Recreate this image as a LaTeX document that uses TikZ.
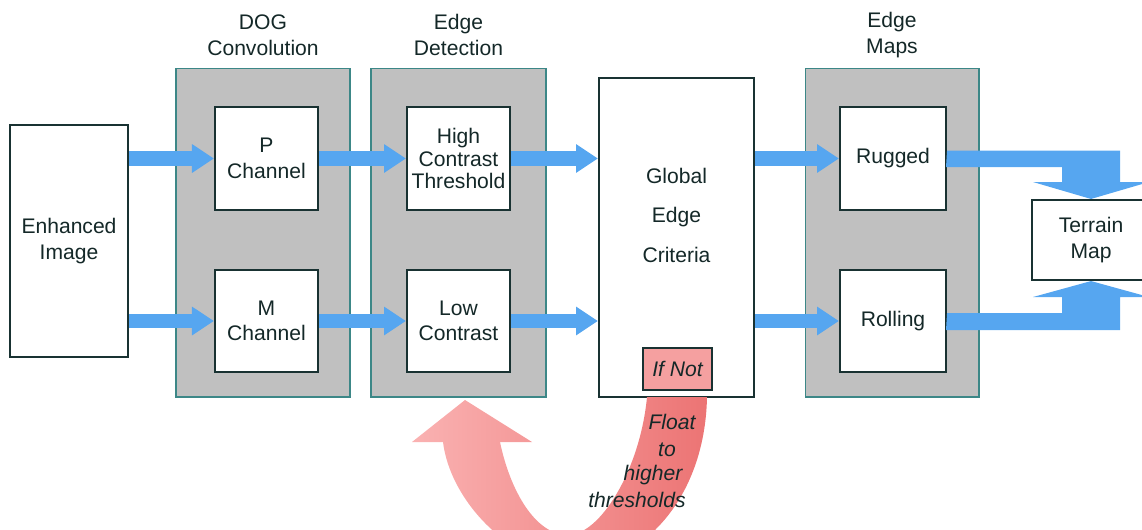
\documentclass[tikz,border=0pt]{standalone}
\usepackage{fontspec}
\setmainfont{Liberation Sans}
\usetikzlibrary{arrows.meta}
\definecolor{panelgray}{RGB}{192,192,192}
\definecolor{panelline}{RGB}{60,135,135}
\definecolor{boxline}{RGB}{25,50,50}
\definecolor{inkdark}{RGB}{20,40,40}
\definecolor{flowblue}{RGB}{86,166,240}
\definecolor{ifnotpink}{RGB}{245,160,160}
\definecolor{pinklight}{RGB}{250,178,178}
\definecolor{pinkdark}{RGB}{236,116,116}
\begin{document}
\begin{tikzpicture}[x=0.02cm, y=-0.02cm,
  every node/.style={font=\fontsize{12}{14.5}\selectfont, text=inkdark},
  panel/.style={draw=panelline, fill=panelgray, line width=0.6pt, inner sep=0pt},
  box/.style={draw=boxline, fill=white, line width=1.2pt, align=center, inner sep=0pt},
  flow/.style={draw=flowblue, line width=8pt, -{Triangle[length=12.5pt,width=15.5pt]}}]
  \useasboundingbox (0,0) rectangle (1142,529);
  \clip (0,0) rectangle (1142,529);
  % grey stage panels with their titles
  \node[panel, minimum width=3.48cm, minimum height=6.58cm] (dog) at (263,232.5) {};
  \node[panel, minimum width=3.5cm, minimum height=6.58cm] (edge) at (458.5,232.5) {};
  \node[panel, minimum width=3.48cm, minimum height=6.58cm] (maps) at (892,232.5) {};
  \node[align=center] (dogtitle) at (263,35) {DOG\\Convolution};
  \node[align=center] (edgetitle) at (458.5,35) {Edge\\Detection};
  \node[align=center] (mapstitle) at (892,35) {Edge\\Maps};
  % boxes
  \node[box, minimum width=2.36cm, minimum height=4.64cm] (enh) at (69,241) {Enhanced\\Image};
  \node[box, minimum width=2.06cm, minimum height=2.06cm] (pch) at (266.5,158.5) {P\\Channel};
  \node[box, minimum width=2.06cm, minimum height=2.04cm] (mch) at (266.5,321) {M\\Channel};
  \node[box, minimum width=2.06cm, minimum height=2.06cm] (high) at (458.5,158.5) {High\\[-1.5pt]Contrast\\[-1.5pt]Threshold};
  \node[box, minimum width=2.06cm, minimum height=2.04cm] (low) at (458.5,321) {Low\\Contrast};
  \node[box, minimum width=3.1cm, minimum height=6.38cm] (glob) at (676.5,237.5) {};
  \node[align=center] (globtext) at ([yshift=0.45cm]glob.center) {Global\\[8pt]Edge\\[8pt]Criteria};
  \node[box, fill=ifnotpink, minimum width=1.38cm, minimum height=0.84cm, font=\fontsize{12}{14.5}\selectfont\itshape] (ifnot) at (677.5,369) {If Not};
  \node[box, minimum width=2.12cm, minimum height=2.06cm] (rug) at (893,158.5) {Rugged};
  \node[box, minimum width=2.12cm, minimum height=2.04cm] (rol) at (893,321) {Rolling};
  \node[box, minimum width=2.36cm, minimum height=1.6cm] (terr) at (1091,240) {Terrain\\Map};
  % flow arrows
  \draw[flow] (enh.east |- pch.west) -- (pch.west);
  \draw[flow] (enh.east |- mch.west) -- (mch.west);
  \draw[flow] (pch.east) -- (high.west);
  \draw[flow] (mch.east) -- (low.west);
  \draw[flow] (high.east) -- (high.east -| glob.west);
  \draw[flow] (low.east) -- (low.east -| glob.west);
  \draw[flow] (rug.west -| glob.east) -- (rug.west);
  \draw[flow] (rol.west -| glob.east) -- (rol.west);
  % merging arrows into the terrain map
  \fill[flowblue] (rug.east) ++(0,-8) -| (1120,182) -- ++(29,0) -- (terr.north)
    -- (1033,182) -- ++(29,0) |- (946,167) -- cycle;
  \fill[flowblue] (rol.east) ++(0,-8) -| (1062,297) -- ++(-29,0) -- (terr.south)
    -- (1149,297) -- ++(-29,0) |- (946,330) -- cycle;
  % feedback arrow
  \shade[left color=pinklight, right color=pinkdark]
    (707,397) .. controls (705,500) and (640,565) .. (575,565)
    .. controls (510,565) and (450,500) .. (443,442)
    -- (412,442) -- (465,400) -- (532,442) -- (500,442)
    .. controls (510,490) and (535,535) .. (568,535)
    .. controls (600,535) and (640,470) .. (647,397) -- cycle;
  \foreach \word/\xx/\yy in {Float/672/422, to/667/450, higher/653/475, thresholds/637/500}
    \node[font=\fontsize{12}{14.5}\selectfont\itshape] at (\xx,\yy) {\word};
\end{tikzpicture}
\end{document}
